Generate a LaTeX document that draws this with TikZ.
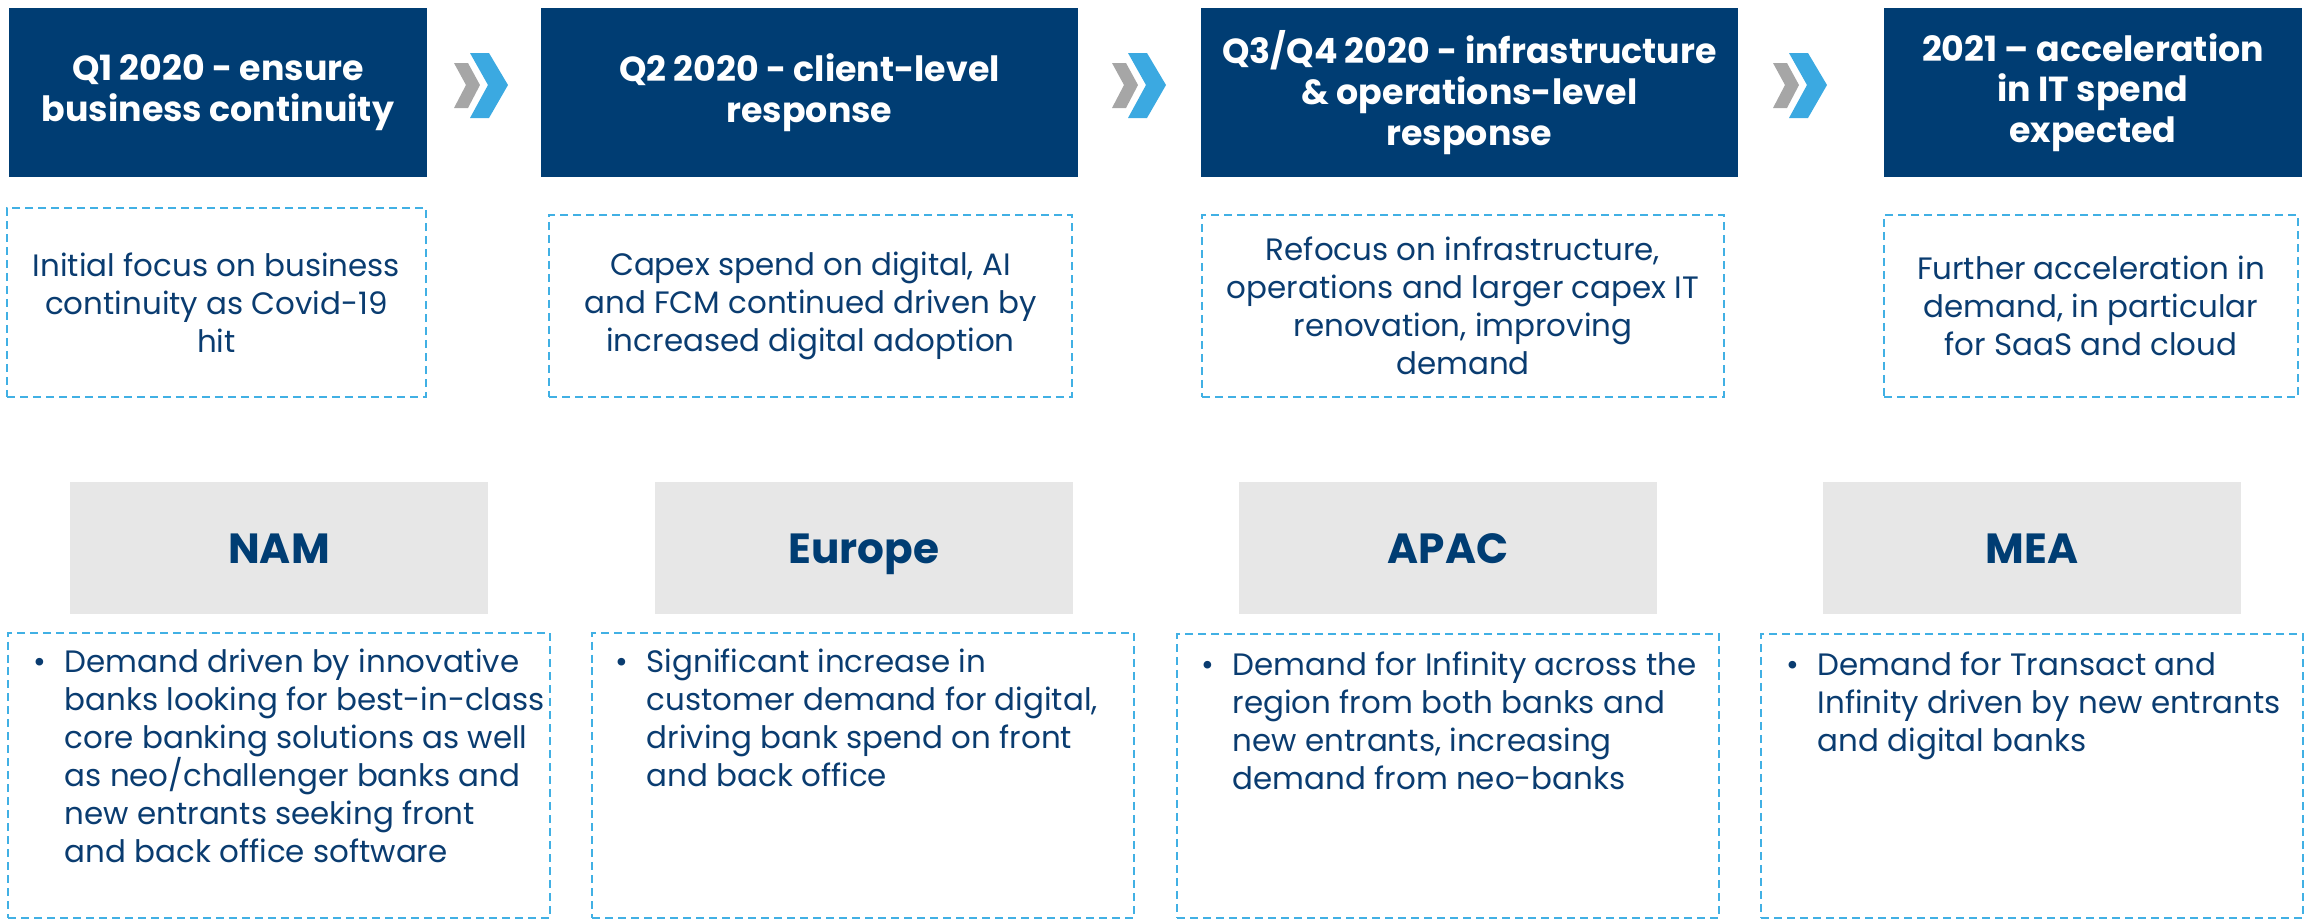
\documentclass[tikz,border=0pt]{standalone}
\usepackage{fontspec}
\setmainfont{Poppins}
\usetikzlibrary{positioning}
\definecolor{hdrblue}{RGB}{0,61,115}
\definecolor{txtblue}{RGB}{10,60,112}
\definecolor{chevblue}{RGB}{59,169,225}
\definecolor{chevgrey}{RGB}{166,166,166}
\definecolor{boxgrey}{RGB}{231,231,231}
\definecolor{dashblue}{RGB}{65,176,228}
\tikzstyle{phase}=[fill=hdrblue,text=white,font=\bfseries\fontsize{9.9}{11.6}\selectfont,align=center,inner sep=0pt,minimum height=16.9mm]
\tikzstyle{note}=[draw=dashblue,dash pattern=on 0.8mm off 0.5mm,line width=0.2mm,text=txtblue,font=\fontsize{8.8}{10.8}\selectfont,align=center,inner sep=0pt,minimum height=18.2mm]
\tikzstyle{region}=[fill=boxgrey,text=hdrblue,font=\bfseries\fontsize{12}{14}\selectfont,inner sep=0pt,minimum width=41.8mm,minimum height=13.2mm,text height=3mm,text depth=0pt]
\tikzstyle{detail}=[draw=dashblue,dash pattern=on 0.8mm off 0.5mm,line width=0.2mm,inner sep=0pt,minimum width=54.2mm,minimum height=28.5mm]
\tikzstyle{bullets}=[text=txtblue,font=\fontsize{8.8}{10.8}\selectfont,inner sep=0pt]
\newcommand{\bul}[1]{\makebox[3.1mm][l]{\textbullet}\parbox[t]{50mm}{\raggedright #1}}
\newcommand{\chevron}[1]{%
\fill[chevgrey,shift={(#1)}] (0,-22) -- (14,-22) -- (26,0) -- (14,23) -- (0,23) -- (12,0) -- cycle;
\fill[chevblue,shift={(#1)}] (16,-32) -- (35,-32) -- (54,0) -- (35,33) -- (16,33) -- (34,0) -- cycle;}

\begin{document}
\begin{tikzpicture}[x=0.1mm,y=-0.1mm]
\useasboundingbox (0,0) rectangle (2312,919);
% timeline
\node[phase,minimum width=41.8mm] (Q1) at (218,92.5) {Q1 2020 - ensure\\business continuity};
\node[phase,minimum width=53.7mm] (Q2) at (809.5,92.5) {Q2 2020 - client-level\\response};
\node[phase,minimum width=53.7mm] (Q3) at (1469.5,92.5) {Q3/Q4 2020 - infrastructure\\\& operations-level\\response};
\node[phase,minimum width=41.8mm] (Y21) at (2093,92.5) {2021 -- acceleration\\in IT spend\\expected};
\coordinate (c1) at (454,85);
\coordinate (c2) at (1112,85);
\coordinate (c3) at (1773,85);
\chevron{c1}
\chevron{c2}
\chevron{c3}
\node[note,minimum width=41.9mm,minimum height=18.9mm] (N1) at (216.5,302.5) {Initial focus on business\\continuity as Covid-19\\hit};
\node[note,minimum width=52.3mm] (N2) at (810.5,306) {Capex spend on digital, AI\\and FCM continued driven by\\increased digital adoption};
\node[note,minimum width=52.2mm] (N3) at (1463,306) {Refocus on infrastructure,\\operations and larger capex IT\\renovation, improving\\demand};
\node[note,minimum width=41.4mm] (N4) at (2091,306) {Further acceleration in\\demand, in particular\\for SaaS and cloud};
% regions
\node[region] (NAM) at (279,548) {NAM};
\node[region] (EU) at (864,548) {Europe};
\node[region] (APAC) at (1448,548) {APAC};
\node[region] (MEA) at (2032,548) {MEA};
\node[detail] (B1) at (279,775) {};
\node[detail] (B2) at (863,775) {};
\node[detail,minimum height=28.4mm] (B3) at (1448,776) {};
\node[detail,minimum height=28.4mm] (B4) at (2032,776) {};
\node[bullets,below right=1.7mm and 2.6mm of B1.north west] (T1) {\bul{Demand driven by innovative\\banks looking for best-in-class\\core banking solutions as well\\as neo/challenger banks and\\new entrants seeking front\\and back office software}};
\node[bullets,below right=1.7mm and 2.4mm of B2.north west] (T2) {\bul{Significant increase in\\customer demand for digital,\\driving bank spend on front\\and back office}};
\node[bullets,below right=1.8mm and 2.5mm of B3.north west] (T3) {\bul{Demand for Infinity across the\\region from both banks and\\new entrants, increasing\\demand from neo-banks}};
\node[bullets,below right=1.8mm and 2.6mm of B4.north west] (T4) {\bul{Demand for Transact and\\Infinity driven by new entrants\\and digital banks}};
\end{tikzpicture}
\end{document}
